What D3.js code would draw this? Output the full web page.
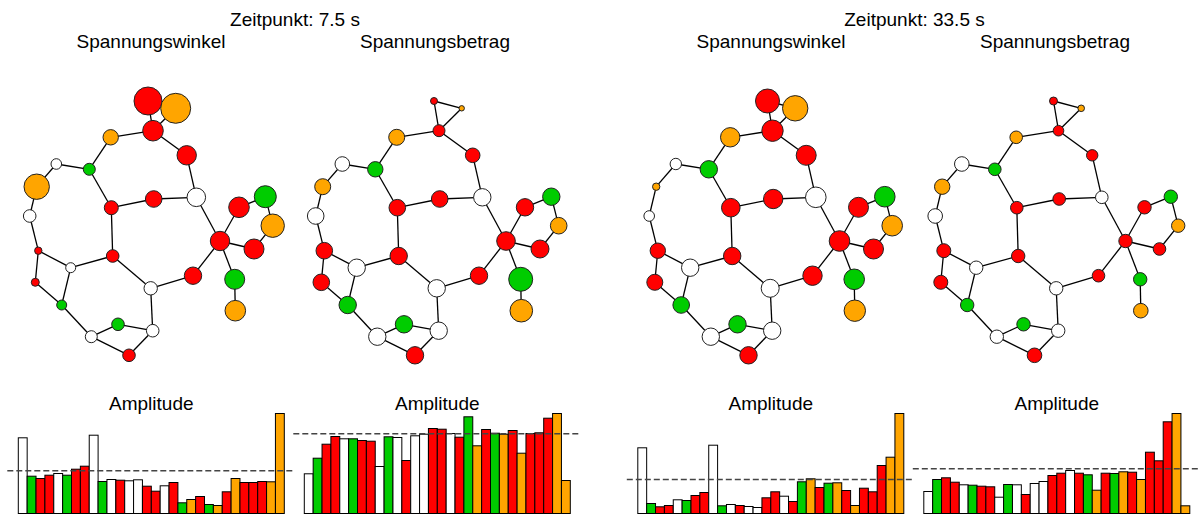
<!DOCTYPE html>
<html><head><meta charset="utf-8">
<script src="https://cdn.jsdelivr.net/npm/d3@7"></script>
<style>
body{margin:0;background:#fff}
svg{display:block}
text{font-family:"Liberation Sans",Arial,Helvetica,sans-serif;font-size:19px;fill:#000}
</style>
</head><body><svg id="c" width="1198" height="514"></svg>
<script>
// ---------------- data ----------------
const timeLabels = ["Zeitpunkt: 7.5 s", "Zeitpunkt: 33.5 s"];
const panelTitles = ["Spannungswinkel", "Spannungsbetrag"];
const barTitle = "Amplitude";

// network layout (layout units)
const nodeX = [148,175.7,153,110.7,186.7,89.3,56.3,36.7,29.7,38.3,35.3,70.7,61.7,91.3,118,152.7,129,111.3,153.7,196.3,112.7,150.7,193,220,239,265.3,272.7,254,234.7,235.3];
const nodeY = [101,108.3,130.7,137.3,155.3,169.3,164,186.7,216,250.7,282.3,267.7,305,336.7,324.3,330.7,355.3,207.7,199,197.3,256,288.3,275.7,241,207.3,196.7,225.7,249,279.3,310.7];
const nodeTypes = ["R","O","R","O","R","G","W","O","W","R","R","W","G","W","G","W","R","R","R","W","R","W","R","R","R","G","O","R","G","O"];
const edges = [[1,3],[2,3],[1,2],[3,4],[3,5],[4,6],[6,7],[7,8],[8,9],[9,10],[10,11],[10,12],[11,13],[12,13],[12,21],[13,14],[14,15],[14,17],[15,16],[16,17],[16,22],[6,18],[18,19],[19,20],[5,20],[18,21],[21,22],[22,23],[23,24],[20,24],[24,25],[25,26],[26,27],[27,28],[24,28],[24,29],[29,30]];

// node magnitudes per panel
const sizeWinkel_7_5  = [14,15,10.3,7.7,9.7,6,5.3,12.7,6.3,3.7,4,5,5,6,6.3,6.3,6.3,7,8.3,9.3,6.3,6.7,8.7,9.7,10.3,11,11.7,10,10,10.3];
const sizeBetrag_7_5  = [3.5,2.7,6,8,7.3,7.7,7.3,8,8.3,8.3,8.3,8.7,8.7,8.7,8.7,8.7,8.7,8.3,8.3,8.7,8.7,8.7,8.7,9.3,8.7,8.7,8.3,9,12,11.3];
const sizeWinkel_33_5 = [12,12.7,10.7,9.7,10,8.7,5.7,3.7,5.3,7.7,8,8.7,8.3,8.7,8.7,8.7,8.7,9.3,9.7,10.3,8.7,9,9.7,10.3,10,10.3,10.3,10,10.3,10.7];
const sizeBetrag_33_5 = [4,3.3,5.3,6.3,5.7,6.3,7.3,7.7,7.3,7,7,6.7,6.7,6.7,6.7,6.7,7.3,6.3,6.3,6.3,6.7,6.7,6.3,6.7,6.7,6.7,6.7,6.3,6.7,7.3];

// amplitude bars (relative to max = 100)
const barTypes = ["W","G","R","R","W","G","R","R","W","G","W","R","W","W","R","R","W","R","G","O","R","G","O","R","O","R","R","R","O","O"];
const ampWinkel_7_5  = [75.7,37.3,35,38.3,40,38.3,44.3,47.3,78.3,32,34,33.3,32.7,33.7,27.3,22.3,27.7,31,10.7,14,17,9,8,21.7,35,31,31,32,31.7,100];
const ampBetrag_7_5  = [39.7,55.3,69.3,77,74.7,74.7,73,72.3,47,76.7,76,53,77.7,79.3,85,84.3,80,76.3,96.7,67.7,84,80.3,79.3,83,60.3,80,80.7,95.3,100,33];
const ampWinkel_33_5 = [65.7,10,6.7,8,13.7,13,18,21,68.3,7.7,9,8,7,6,15.7,21.7,17.3,12,31.7,34.7,26,30.3,30.7,23,8,25.3,21.7,48,56.3,100];
const ampBetrag_33_5 = [22,34,35.7,31.3,28.7,28.3,27.3,26.7,16.3,29,28.7,19,30,32,38,40.3,43,40.3,38.7,23.3,40.3,40,41.7,41.3,34,61.3,52.7,91.7,100,7.7];
const refLevels = [42.7, 79.7, 34, 44.7];

// ---------------- drawing ----------------
const colorOf = d3.scaleOrdinal().domain(["R","O","G","W"]).range(["#ff0000","#ffa500","#00cc00","#ffffff"]);
const svg = d3.select("#c");

const panels = [
  {off:0,     titleX:151,  sizes:sizeWinkel_7_5,  amps:ampWinkel_7_5,  ref:refLevels[0]},
  {off:286,   titleX:435,  sizes:sizeBetrag_7_5,  amps:ampBetrag_7_5,  ref:refLevels[1]},
  {off:619.5, titleX:771,  sizes:sizeWinkel_33_5, amps:ampWinkel_33_5, ref:refLevels[2]},
  {off:905.5, titleX:1055, sizes:sizeBetrag_33_5, amps:ampBetrag_33_5, ref:refLevels[3]}
];

// headers
svg.selectAll("text.time").data(timeLabels).join("text")
  .attr("class","time").attr("x",(d,i)=>295+i*619.5).attr("y",26)
  .attr("text-anchor","middle").text(d=>d);

panels.forEach((p,i)=>{
  svg.append("text").attr("x",p.titleX).attr("y",48).attr("text-anchor","middle").text(panelTitles[i%2]);

  // network
  const xs = d3.scaleLinear().domain([0,100]).range([p.off, p.off+100]);
  const ys = d3.scaleLinear().domain([0,100]).range([0,100]);
  const rs = d3.scaleLinear().domain([0,10]).range([0,10]);
  const g = svg.append("g");
  g.selectAll("line").data(edges).join("line")
    .attr("x1",e=>xs(nodeX[e[0]-1])).attr("y1",e=>ys(nodeY[e[0]-1]))
    .attr("x2",e=>xs(nodeX[e[1]-1])).attr("y2",e=>ys(nodeY[e[1]-1]))
    .attr("stroke","#000").attr("stroke-width",1.3);
  g.selectAll("circle").data(d3.range(nodeX.length)).join("circle")
    .attr("cx",k=>xs(nodeX[k])).attr("cy",k=>ys(nodeY[k]))
    .attr("r",k=>rs(p.sizes[k]))
    .attr("fill",k=>colorOf(nodeTypes[k]))
    .attr("stroke","#222").attr("stroke-width",1);

  // bars
  const bx = d3.scaleBand().domain(d3.range(p.amps.length)).range([18.3+p.off, 284.3+p.off]).padding(0);
  const by = d3.scaleLinear().domain([0,100]).range([513.5,413.5]);
  const bg = svg.append("g");
  bg.selectAll("rect").data(p.amps).join("rect")
    .attr("x",(d,k)=>bx(k)).attr("width",bx.bandwidth())
    .attr("y",d=>by(d)).attr("height",d=>by(0)-by(d))
    .attr("fill",(d,k)=>colorOf(barTypes[k]))
    .attr("stroke","#000").attr("stroke-width",1);
  bg.append("line")
    .attr("x1",bx.range()[0]-11).attr("x2",bx.range()[1]+11)
    .attr("y1",by(p.ref)).attr("y2",by(p.ref))
    .attr("stroke","#444").attr("stroke-width",1.4).attr("stroke-dasharray","6,3");
  svg.append("text").attr("x",(bx.range()[0]+bx.range()[1])/2).attr("y",410)
    .attr("text-anchor","middle").text(barTitle);
});
</script>
</body></html>
